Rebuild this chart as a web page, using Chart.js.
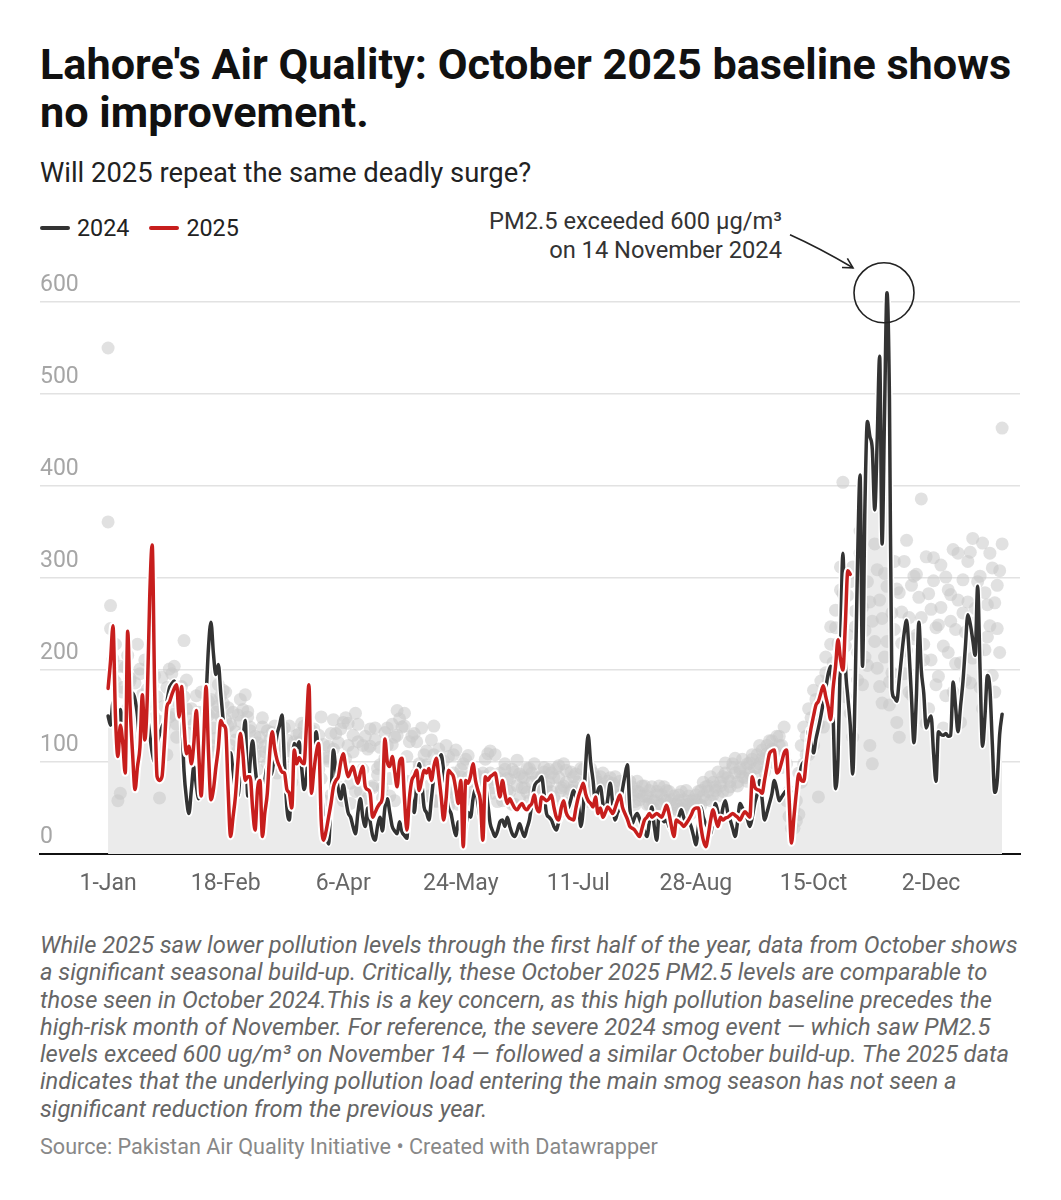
<!DOCTYPE html>
<html>
<head>
<meta charset="utf-8">
<script src="https://cdn.jsdelivr.net/npm/chart.js@4/dist/chart.umd.min.js"></script>
<style>
  body { margin: 0; background: #fff; font-family: Roboto, sans-serif; }
  .wrap { position: relative; width: 1061px; height: 1200px; }
  h1 { position: absolute; left: 40px; top: 41px; margin: 0; font: 700 43.2px/48px Roboto, sans-serif; color: #111; white-space: nowrap; }
  .sub { position: absolute; left: 40px; top: 158px; font: 27.4px/30px Roboto, sans-serif; color: #222; }
  .legend { position: absolute; left: 40px; top: 214px; font: 23.3px/28px Roboto, sans-serif; color: #222; display: flex; gap: 20px; }
  .legend span { display: flex; align-items: center; }
  .legend i { display: inline-block; width: 30px; height: 4px; border-radius: 2px; margin-right: 7px; }
  .note { position: absolute; right: 279px; top: 207px; font: 23.7px/29px Roboto, sans-serif; color: #333; text-align: right; white-space: nowrap; }
  canvas { position: absolute; left: 0; top: 190px; }
  .desc { position: absolute; left: 40px; top: 932px; font: italic 23.7px/27.3px Roboto, sans-serif; color: #666; white-space: nowrap; }
  .src { position: absolute; left: 40px; top: 1135px; font: 21.6px/24px Roboto, sans-serif; color: #888; }
</style>
</head>
<body>
<div class="wrap">
  <h1>Lahore's Air Quality: October 2025 baseline shows<br>no improvement.</h1>
  <div class="sub">Will 2025 repeat the same deadly surge?</div>
  <div class="legend">
    <span><i style="background:#333"></i>2024</span>
    <span><i style="background:#c71e1d"></i>2025</span>
  </div>
  <div class="note">PM2.5 exceeded 600 µg/m³<br>on 14 November 2024</div>
  <canvas id="chart" width="1061" height="720"></canvas>
  <div class="desc">While 2025 saw lower pollution levels through the first half of the year, data from October shows<br>a significant seasonal build-up. Critically, these October 2025 PM2.5 levels are comparable to<br>those seen in October 2024.This is a key concern, as this high pollution baseline precedes the<br>high-risk month of November. For reference, the severe 2024 smog event — which saw PM2.5<br>levels exceed 600 ug/m³ on November 14 — followed a similar October build-up. The 2025 data<br>indicates that the underlying pollution load entering the main smog season has not seen a<br>significant reduction from the previous year.</div>
  <div class="src">Source: Pakistan Air Quality Initiative • Created with Datawrapper</div>
</div>
<script>
/* ── Data: daily PM2.5, day index 0 = 1 Jan ── */
const AQ_2024 = [
  150,140,165,130,120,157,140,110,130,160,
  175,168,150,120,135,160,150,130,110,100,
  120,130,138,145,165,180,185,188,180,170,
  150,90,60,44,70,95,75,60,80,120,
  170,225,252,218,195,206,175,145,120,95,
  110,90,70,63,90,120,145,63,100,123,
  95,70,40,55,80,95,85,90,110,130,
  140,151,100,50,37,90,120,115,122,95,
  70,85,110,95,120,133,100,70,40,20,
  11,60,113,90,70,60,75,60,45,40,
  30,22,45,60,40,30,50,35,20,15,
  30,40,25,50,60,45,30,25,22,35,
  24,20,17,70,60,45,75,98,80,51,
  45,37,60,84,95,100,108,90,66,50,
  44,30,20,35,25,15,30,45,40,60,
  70,55,40,45,73,55,33,25,19,25,
  35,37,30,40,30,22,19,25,33,25,
  19,28,37,55,73,78,80,84,65,44,
  40,37,30,26,35,40,44,48,51,60,
  69,62,55,30,50,98,129,100,80,55,
  69,73,55,44,60,77,55,37,45,51,
  70,85,97,50,33,40,44,38,30,25,
  19,35,51,30,15,44,40,35,37,30,
  26,30,33,40,48,40,33,35,30,20,
  10,30,51,40,33,28,22,40,55,45,
  37,50,58,45,37,28,19,35,55,50,
  44,38,30,40,55,65,80,60,37,45,
  55,65,80,70,58,62,66,69,62,55,
  67,73,80,95,100,104,135,120,110,125,
  137,150,165,180,196,204,150,71,104,220,
  327,208,171,140,87,180,320,412,204,380,
  470,454,440,374,450,541,337,480,610,495,
  179,170,166,190,216,240,254,220,170,121,
  171,252,200,175,137,145,150,110,79,133,
  130,129,131,128,129,187,160,133,160,187,
  225,260,250,233,216,291,200,117,150,194,
  180,120,67,80,130,152
];

const AQ_2025 = [
  180,210,248,150,106,140,120,88,242,160,
  109,70,95,116,173,124,170,280,336,180,
  84,80,84,120,160,165,173,180,184,149,
  182,140,109,117,98,120,156,110,63,120,
  182,110,59,70,94,115,145,140,136,70,
  19,40,63,100,131,110,80,84,84,50,
  26,70,80,19,45,66,110,133,115,102,
  95,89,88,70,66,50,113,98,105,100,
  98,140,184,66,90,110,120,37,15,25,
  40,55,73,80,84,100,109,95,84,90,
  95,85,77,88,95,73,70,66,40,45,
  51,55,62,125,100,95,106,90,73,100,
  104,60,26,60,80,85,91,69,80,91,
  88,93,80,95,104,85,62,37,60,91,
  88,84,70,55,80,8,80,77,85,98,
  80,69,58,15,84,80,84,86,88,75,
  62,80,65,55,60,55,50,48,52,55,
  50,48,52,55,64,50,46,62,60,58,
  60,64,51,40,37,50,58,45,40,38,
  37,50,62,70,77,65,58,55,51,62,
  44,50,40,45,51,48,44,50,58,64,
  51,44,38,30,28,26,22,19,28,37,
  40,44,40,42,44,42,40,46,53,44,
  30,19,37,35,33,30,33,37,42,48,
  50,50,30,15,8,20,37,48,38,30,
  40,37,39,40,42,44,42,40,37,42,
  46,43,40,84,73,70,69,66,80,95,
  109,112,113,88,91,100,110,113,62,12,
  40,67,87,80,79,100,120,137,150,162,
  166,175,183,171,160,146,180,204,233,212,
  200,250,308,304
];

// earlier years, drawn as grey dots
const HIST_A = [
  361,270,212,187,58,66,176,203,158,191,
  168,147,228,196,173,138,162,207,183,148,
  118,61,192,139,108,201,177,152,127,163,
  182,232,158,147,117,141,172,108,93,128,
  151,166,118,137,154,161,172,178,176,139,
  118,97,133,151,168,157,173,155,138,116,
  108,92,127,138,117,98,113,132,122,88,
  103,117,137,112,91,78,122,107,131,142,
  127,116,97,106,136,121,92,82,58,104,
  117,131,146,72,121,64,143,148,118,55,
  111,153,122,68,92,128,61,117,74,137,
  86,97,72,132,118,63,141,127,156,84,
  138,153,79,122,66,131,87,98,137,62,
  112,74,124,139,58,93,81,67,118,52,
  71,108,63,79,92,57,103,83,68,88,
  82,61,73,88,103,78,112,66,108,83,
  73,58,98,82,68,92,54,102,87,72,
  83,67,93,78,98,57,73,84,94,68,
  78,88,62,93,83,69,98,78,55,89,
  84,68,78,93,73,63,84,69,88,79,
  68,84,63,74,79,58,69,84,73,64,
  74,58,69,79,64,53,68,59,74,63,
  54,69,58,49,64,74,54,59,69,48,
  59,44,54,64,49,59,69,54,44,59,
  64,54,69,78,59,74,84,64,69,89,
  74,84,99,69,79,94,104,74,89,84,
  93,79,99,108,84,94,118,104,89,109,
  123,114,99,128,118,94,108,58,41,28,
  49,36,88,118,138,108,158,128,178,148,
  62,168,138,197,188,228,208,246,178,287,
  404,226,281,153,312,247,189,327,268,214,
  296,118,253,337,202,276,164,305,231,187,
  262,318,143,284,229,196,341,257,173,302,
  238,279,386,211,323,158,266,297,184,249,
  314,226,172,287,253,331,207,276,143,298,
  241,318,186,343,267,219,302,158,284,236,
  327,194,273,245,308,463
];

const HIST_B = [
  550,245,191,228,152,204,181,141,216,188,
  132,186,158,201,146,211,179,134,166,194,
  171,144,126,161,181,149,196,204,141,169,
  151,171,189,131,158,106,146,154,176,121,
  134,151,168,111,126,184,149,164,146,159,
  141,154,124,112,144,131,121,149,134,101,
  128,121,106,148,111,134,124,101,139,119,
  96,134,116,124,139,111,101,129,121,104,
  139,111,124,134,101,114,129,149,119,106,
  101,64,114,131,73,136,58,104,142,77,
  129,68,141,83,118,57,114,136,72,124,
  93,116,61,104,137,82,119,58,129,147,
  81,139,106,58,128,73,122,94,61,108,
  97,63,92,108,57,114,86,101,69,106,
  62,88,113,54,84,98,66,107,79,58,
  87,77,58,84,62,109,88,72,81,57,
  88,63,92,69,81,54,89,74,61,84,
  72,93,58,88,68,83,56,79,89,73,
  92,68,83,57,96,72,74,91,62,69,
  73,87,61,68,92,78,57,93,74,83,
  78,63,88,72,58,83,77,62,64,79,
  59,78,62,68,73,57,79,67,63,74,
  63,54,73,58,68,53,64,73,58,68,
  54,63,49,58,68,53,48,63,58,53,
  58,68,53,63,73,68,58,78,73,63,
  78,68,88,83,73,98,88,78,93,103,
  83,98,88,103,93,108,98,113,103,118,
  108,123,113,103,128,118,138,98,68,54,
  28,58,43,78,98,128,108,148,118,168,
  141,188,163,214,176,247,198,265,229,312,
  283,171,238,296,127,264,219,351,184,243,
  205,274,98,231,309,182,256,214,291,162,
  197,244,288,127,263,318,221,176,292,234,
  304,186,257,228,142,283,211,322,246,193,
  268,137,301,219,282,176,244,327,208,262,
  189,274,328,213,251,296,181,338,222,271,
  248,311,176,292,219,337
];

const TICK_DAYS   = [0, 48, 96, 144, 192, 240, 288, 336];
const TICK_LABELS = ['1-Jan','18-Feb','6-Apr','24-May','11-Jul','28-Aug','15-Oct','2-Dec'];
const Y_TICKS     = [0, 100, 200, 300, 400, 500, 600];

const PEAK_DAY = 318;   // 14 Nov 2024
const PEAK_VAL = 610;

const BLACK = '#333333';
const RED   = '#c71e1d';
const DOT   = 'rgba(200,200,200,0.55)';

/* ── Utilities ── */
const toPoints = arr => arr.map((v, i) => ({ x: i, y: v }));

/* ── Annotation: circle + arrow on the peak ── */
const peakNote = {
  id: 'peakNote',
  afterDatasetsDraw(chart) {
    const { ctx, scales: { x, y } } = chart;
    const px = x.getPixelForValue(PEAK_DAY);
    const py = y.getPixelForValue(PEAK_VAL);
    ctx.save();
    ctx.strokeStyle = '#222';
    ctx.lineWidth = 1.6;
    ctx.beginPath();
    ctx.arc(px - 3, py, 30, 0, Math.PI * 2);
    ctx.stroke();

    const sx = px - 97, sy = py - 58;
    const cx = px - 68, cy = py - 45;
    const ex = px - 34, ey = py - 25;
    ctx.beginPath();
    ctx.moveTo(sx, sy);
    ctx.quadraticCurveTo(cx, cy, ex, ey);
    ctx.stroke();
    const a = Math.atan2(ey - cy, ex - cx);
    ctx.beginPath();
    ctx.moveTo(ex + 11 * Math.cos(a + Math.PI - 0.5), ey + 11 * Math.sin(a + Math.PI - 0.5));
    ctx.lineTo(ex, ey);
    ctx.lineTo(ex + 11 * Math.cos(a + Math.PI + 0.5), ey + 11 * Math.sin(a + Math.PI + 0.5));
    ctx.stroke();
    ctx.restore();
  }
};

/* ── Chart ── */
function initChart() {
  Chart.defaults.font.family = 'Roboto, sans-serif';
  const lineBase = { pointRadius: 0, fill: false, cubicInterpolationMode: 'monotone', borderJoinStyle: 'round', borderCapStyle: 'round' };
  const dotBase  = { showLine: false, pointRadius: 6.5, pointBorderWidth: 0, pointBackgroundColor: DOT };

  new Chart(document.getElementById('chart'), {
    type: 'line',
    data: {
      datasets: [
        { ...lineBase, label: '2025', data: toPoints(AQ_2025), borderColor: RED, borderWidth: 3.5, order: 0 },
        { ...lineBase, label: '2025 halo', data: toPoints(AQ_2025), borderColor: '#fff', borderWidth: 7.5, order: 1 },
        { ...lineBase, label: '2024', data: toPoints(AQ_2024), borderColor: BLACK, borderWidth: 3.5, order: 2 },
        { ...lineBase, label: '2024 halo', data: toPoints(AQ_2024), borderColor: '#fff', borderWidth: 6.5, order: 3 },
        { ...dotBase, label: 'earlier A', data: toPoints(HIST_A), order: 4 },
        { ...dotBase, label: 'earlier B', data: toPoints(HIST_B), order: 5 },
        { label: '2024 area', data: toPoints(AQ_2024), pointRadius: 0, borderWidth: 0, fill: 'origin',
          cubicInterpolationMode: 'monotone', backgroundColor: '#ebebeb', order: 6 },
      ],
    },
    options: {
      responsive: false,
      animation: false,
      events: [],
      layout: { padding: { left: 40, right: 41, top: 66, bottom: 6 } },
      plugins: { legend: { display: false }, tooltip: { enabled: false } },
      scales: {
        x: {
          type: 'linear',
          min: -27.8,
          max: 372.3,
          afterBuildTicks: s => { s.ticks = TICK_DAYS.map(v => ({ value: v })); },
          afterFit: s => { s.height = 50; },
          ticks: {
            callback: v => TICK_LABELS[TICK_DAYS.indexOf(v)],
            font: { size: 23 },
            color: '#666',
            padding: 8,
            maxRotation: 0,
            autoSkip: false,
          },
          grid: { display: false },
          border: { display: true, color: '#111', width: 2 },
        },
        y: {
          min: 0,
          max: 650,
          afterBuildTicks: s => { s.ticks = Y_TICKS.map(v => ({ value: v })); },
          afterFit: s => { s.width = 0; },
          ticks: {
            mirror: true,
            padding: 0,
            labelOffset: -17,
            font: { size: 23 },
            color: '#a6a6a6',
          },
          grid: {
            drawTicks: false,
            lineWidth: 1.5,
            color: c => (c.tick && c.tick.value === 0 ? 'rgba(0,0,0,0)' : '#e2e2e2'),
          },
          border: { display: false },
        },
      },
    },
    plugins: [peakNote],
  });
}

document.addEventListener('DOMContentLoaded', initChart);
</script>
</body>
</html>
